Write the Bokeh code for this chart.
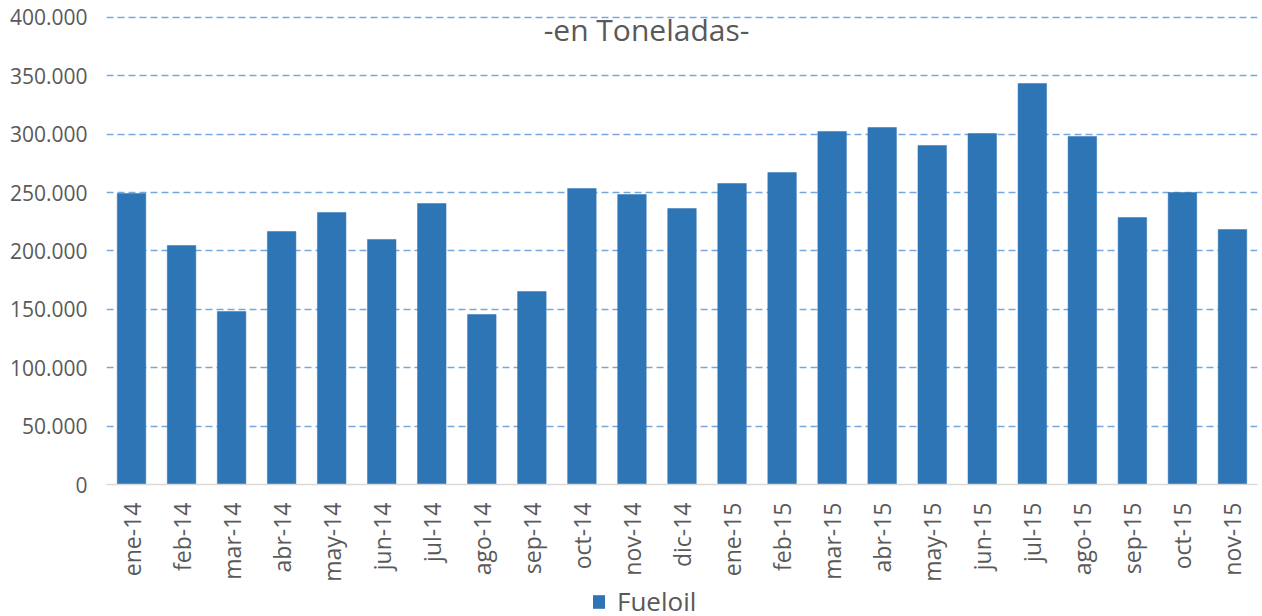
from bokeh.plotting import figure
from bokeh.models import Range1d, FixedTicker, Legend, LegendItem, Label, ColumnDataSource
from bokeh.layouts import column
from bokeh.embed import file_html
from bokeh.resources import INLINE
import math

months = ["ene-14", "feb-14", "mar-14", "abr-14", "may-14", "jun-14", "jul-14", "ago-14",
          "sep-14", "oct-14", "nov-14", "dic-14", "ene-15", "feb-15", "mar-15", "abr-15",
          "may-15", "jun-15", "jul-15", "ago-15", "sep-15", "oct-15", "nov-15"]
fueloil = [249200, 204700, 148200, 216700, 233000, 209900, 240700, 145600,
           165300, 253500, 248400, 236400, 257800, 267200, 302400, 305800,
           290400, 300600, 343500, 298100, 228700, 250100, 218400]
y_ticks = [0, 50000, 100000, 150000, 200000, 250000, 300000, 350000, 400000]
y_tick_labels = ["0", "50.000", "100.000", "150.000", "200.000", "250.000", "300.000", "350.000", "400.000"]
subtitle = "-en Toneladas-"
series_name = "Fueloil"

TXT = "#595959"
FONT = "Open Sans"
BAR = "#2E75B6"

src = ColumnDataSource(dict(x=list(range(len(months))), y=fueloil))

p = figure(width=1262, height=588, output_backend="svg", toolbar_location=None,
           x_range=Range1d(-0.5, len(months) - 0.5), y_range=Range1d(0, 414560),
           min_border_left=106, min_border_right=5, min_border_top=0, min_border_bottom=104)
p.outline_line_color = None
p.background_fill_color = "white"
p.border_fill_color = "white"

r = p.vbar(x="x", top="y", width=0.57, source=src, fill_color=BAR, line_color=BAR,
           line_width=0.5)

# x axis
p.xaxis.ticker = FixedTicker(ticks=list(range(len(months))))
p.xaxis.major_label_overrides = {i: m for i, m in enumerate(months)}
p.xaxis.major_label_orientation = math.pi / 2
p.xaxis.major_label_text_font = FONT
p.xaxis.major_label_text_font_size = "23px"
p.xaxis.major_label_text_color = TXT
p.xaxis.major_tick_line_color = None
p.xaxis.minor_tick_line_color = None
p.xaxis.axis_line_color = "#d9d9d9"
p.xaxis.axis_line_width = 1.5
p.xaxis.major_label_standoff = 12

# y axis
p.yaxis.ticker = FixedTicker(ticks=y_ticks)
p.yaxis.major_label_overrides = {t: l for t, l in zip(y_ticks, y_tick_labels)}
p.yaxis.major_label_text_font = FONT
p.yaxis.major_label_text_font_size = "21px"
p.yaxis.major_label_text_color = TXT
p.yaxis.major_tick_line_color = None
p.yaxis.minor_tick_line_color = None
p.yaxis.axis_line_color = None
p.yaxis.major_label_standoff = 13

p.xgrid.grid_line_color = None
p.ygrid.grid_line_color = "#76a7de"
p.ygrid.grid_line_width = 1.5
p.ygrid.grid_line_dash = "7 4"

# subtitle (screen units relative to the plot frame)
p.add_layout(Label(x=540, y=455, x_units="screen", y_units="screen", text=subtitle,
                   text_font=FONT, text_font_size="30px", text_color=TXT,
                   text_align="center", text_baseline="alphabetic"))

# legend strip below the chart
lg = figure(width=1262, height=26, output_backend="svg", toolbar_location=None,
            x_axis_type=None, y_axis_type=None, x_range=Range1d(0, 1), y_range=Range1d(0, 1),
            min_border_left=106, min_border_right=5, min_border_top=0, min_border_bottom=0)
lg.outline_line_color = None
lg.xgrid.grid_line_color = None
lg.ygrid.grid_line_color = None
lg.background_fill_color = "white"
lg.border_fill_color = "white"
dummy = lg.vbar(x=[0.5], top=[0], bottom=[0], width=0.0, fill_color=BAR, line_color=BAR,
                line_alpha=0)
legend = Legend(items=[LegendItem(label=series_name, renderers=[dummy])], location="center_left",
                orientation="horizontal", padding=0, margin=485, border_line_color=None,
                background_fill_alpha=0, glyph_width=15, glyph_height=17, label_standoff=11,
                label_text_font=FONT, label_text_font_size="26px", label_text_color=TXT,
                label_height=17)
lg.add_layout(legend, "center")

layout = column(p, lg, spacing=0)
open("out.html", "w").write(file_html(layout, INLINE))
